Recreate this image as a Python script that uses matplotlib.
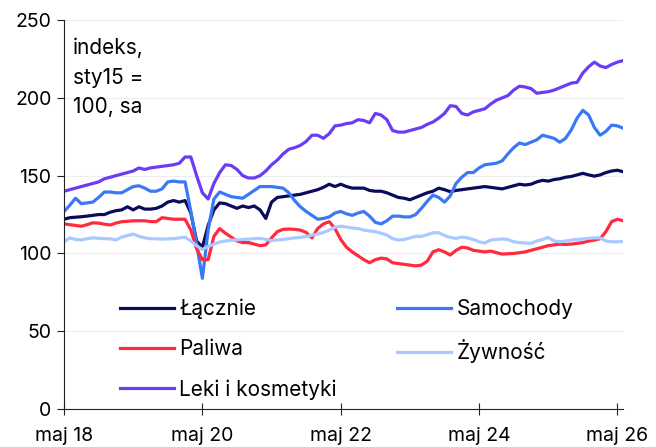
import numpy as np
import matplotlib
matplotlib.use("Agg")
from matplotlib import pyplot as plt

# indeksy miesięczne, maj 2018 -> cze 2026 (98 punktów)
lacznie = [122, 123, 123.3, 123.6, 124, 124.5, 125, 125, 126.5, 127.5,
           128, 130, 128, 130, 128.5, 128.5, 129, 130.5, 133, 134,
           133, 134, 126, 108, 104, 118, 128, 132.5, 132, 130.5,
           129, 130.5, 129.5, 130.5, 128, 122.5, 133, 136, 136.5, 137,
           137.5, 138, 139, 140, 141, 142.5, 144.5, 143, 144.5, 143,
           142, 142, 142, 140.5, 140, 140, 139, 137.5, 136, 135.5,
           134.5, 136, 137.5, 139, 140, 142, 141, 139.7, 140.5, 141,
           141.5, 142, 142.5, 143, 142.5, 142, 141.5, 142.5, 143.5, 144.5,
           144, 144.5, 146, 147, 146.5, 147.5, 148, 149, 149.5, 150.5,
           151.5, 150.5, 149.7, 150.5, 152, 153, 153.5, 152.5]

samochody = [127, 131, 135.5, 132, 132.5, 133, 136, 139.5, 139.5, 139,
             139, 141, 143, 143.5, 142, 140, 140, 141.5, 146, 146.5,
             146, 146, 127, 106, 84, 115, 135, 139.5, 138, 136.5,
             136, 135.5, 138, 140.5, 143, 143, 143, 142.5, 142, 139,
             134, 130, 127, 124.5, 122, 122.5, 123.5, 126, 127, 125.5,
             124.5, 126, 127, 124, 120, 119, 121, 124, 124, 123.5,
             123.5, 125, 129, 133.5, 137.5, 136, 133, 137, 145, 149,
             152, 152, 155, 157, 157.5, 158, 159.5, 164, 168, 171,
             170, 171.5, 173, 176, 175, 174, 171.5, 174, 179.5, 187,
             192, 189, 181, 176, 178.5, 182.5, 182, 180.5]

paliwa = [119, 118.5, 118, 117.5, 118.5, 119.7, 119.5, 118.8, 118.3, 119.5,
          120.4, 120.7, 121, 121, 121, 120.5, 120.4, 123, 122.5, 122,
          122, 122, 115, 103, 96, 96, 111, 116, 113, 110.5,
          108, 107, 107, 106, 105, 105.5, 110, 114, 115.5, 115.7,
          115.5, 115, 113.5, 110, 116, 119, 120.4, 116, 109, 104,
          101, 98.5, 96, 94, 96, 97, 96.5, 94, 93.5, 93,
          92.5, 92, 92.5, 95, 101, 102.4, 101, 99, 102, 104,
          103.5, 102, 101.5, 101, 101.5, 100.5, 99.6, 99.8, 100, 100.5,
          101, 102, 103, 104, 105, 105.5, 106, 105.8, 106, 106.5,
          107, 108, 108.6, 109.5, 114, 120.5, 122, 121]

zywnosc = [107.5, 110, 109, 108.7, 109.5, 110, 109.7, 109.5, 109.4, 108.7,
           110.5, 111.5, 112.5, 111, 110, 109.5, 109.4, 109.2, 109.4, 109.5,
           110, 110.5, 108, 105, 102.5, 104.5, 106, 107.3, 108, 108.5,
           108.7, 109, 109.2, 109.5, 109.7, 109, 108.3, 108.7, 109, 109.5,
           110, 110.3, 111, 111.7, 112.5, 113.5, 115, 116.8, 117.5, 117,
           116.3, 116, 115, 114.5, 114, 113, 111.8, 109.5, 108.6, 109,
           110, 111, 111, 112, 113.3, 113.3, 111.5, 110.3, 109.7, 110.5,
           110, 109, 107.5, 106.7, 108.6, 109, 109.3, 109, 107.5, 107,
           106.7, 106.5, 108, 109, 110.3, 108, 107.5, 108, 108.6, 109,
           109.3, 109.7, 110, 110, 108, 107.5, 107.5, 107.7]

leki = [140, 141, 142, 143, 144, 145, 146, 148, 149, 150,
        151, 152, 153, 155, 154, 155, 155.5, 156, 156.5, 157,
        158, 162, 162, 150, 139, 135, 145, 152, 157, 156.5,
        154, 150, 148.5, 148.5, 150, 153, 157, 160, 164, 167,
        168, 169.5, 172, 176, 176, 174, 177, 182, 182.5, 183.5,
        184, 186, 185.5, 184, 190, 189, 186, 179, 178, 178,
        179, 180, 181, 183, 184.5, 187, 190, 195, 194.5, 190,
        189, 191, 192, 193, 196, 198.5, 200, 201.5, 205, 207.5,
        207, 206, 203, 203.5, 204, 205, 206.5, 208, 209.5, 210,
        216, 220, 223, 220.5, 219.5, 221.5, 223, 224]

tick_pos = [0, 24, 48, 72, 96]
tick_labels = ["maj 18", "maj 20", "maj 22", "maj 24", "maj 26"]

series = [
    ("Łącznie", lacznie, "#0b0b5c"),
    ("Samochody", samochody, "#3b78f5"),
    ("Paliwa", paliwa, "#ff2a3d"),
    ("Żywność", zywnosc, "#a9c9ff"),
    ("Leki i kosmetyki", leki, "#6b3cf7"),
]

plt.rcParams["font.family"] = ["Inter", "DejaVu Sans"]
plt.rcParams["font.size"] = 14

fig = plt.figure(figsize=(6.56, 4.47), dpi=100)
ax = fig.add_axes([0.0976, 0.085, 0.8524, 0.870])

x = np.arange(len(lacznie))
lines = {}
for name, vals, col in series:
    lines[name], = ax.plot(x, vals, color=col, lw=2.3, label=name,
                           solid_joinstyle="round")

ax.set_xlim(0, 97)
ax.set_ylim(0, 250)
ax.set_yticks([0, 50, 100, 150, 200, 250])
ax.set_xticks(tick_pos)
ax.set_xticklabels(tick_labels)
ax.yaxis.grid(True, color="#eeeeee", lw=0.8)
ax.set_axisbelow(True)

for s in ["top", "right"]:
    ax.spines[s].set_visible(False)
ax.spines["left"].set_color("#222222")
ax.spines["bottom"].set_color("#222222")
ax.tick_params(axis="y", length=5, color="#222222", pad=4)
ax.tick_params(axis="x", length=8, direction="inout", color="#222222", pad=9)

ax.text(0.016, 0.955, "indeks,\nsty15 =\n100, sa", transform=ax.transAxes,
        va="top", ha="left", linespacing=1.6, fontsize=15)

# kolejność wierszami: Łącznie, Samochody / Paliwa, Żywność / Leki
order = ["Łącznie", "Paliwa", "Leki i kosmetyki", "Samochody", "Żywność"]
ax.legend([lines[n] for n in order], order, loc="upper left",
          bbox_to_anchor=(0.1, 0.283), ncol=2, frameon=False, fontsize=15,
          handlelength=2.6, handletextpad=0.25, columnspacing=2.9,
          labelspacing=0.95, borderpad=0, borderaxespad=0)

plt.savefig("out.png", dpi=100)
